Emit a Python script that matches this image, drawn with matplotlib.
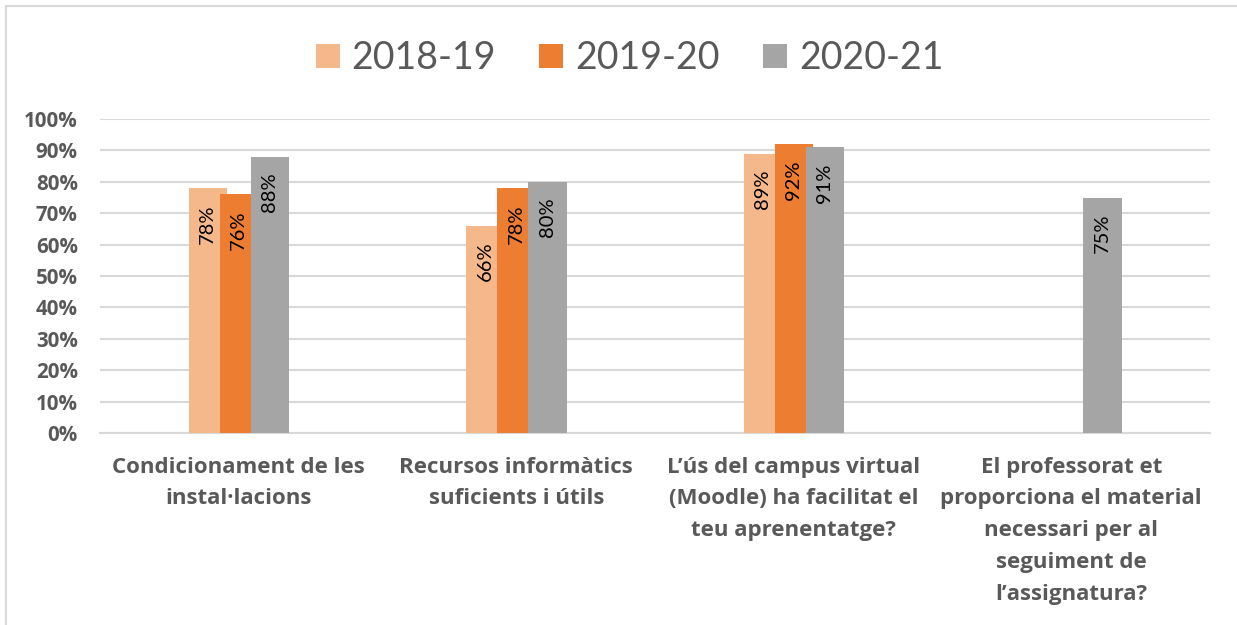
import matplotlib
matplotlib.use("Agg")
import matplotlib.pyplot as plt
import numpy as np
from matplotlib.lines import Line2D

plt.rcParams['font.family'] = ['Lato', 'DejaVu Sans']

categories = [
    "Condicionament de les\ninstal·lacions",
    "Recursos informàtics\nsuficients i útils",
    "L\u2019ús del campus virtual\n(Moodle) ha facilitat el\nteu aprenentatge?",
    "El professorat et\nproporciona el material\nnecessari per al\nseguiment de\nl\u2019assignatura?",
]
series_names = ["2018-19", "2019-20", "2020-21"]
v2018 = [78, 66, 89, np.nan]
v2019 = [76, 78, 92, np.nan]
v2020 = [88, 80, 91, 75]
series_values = [v2018, v2019, v2020]
colors = ["#F5B88B", "#ED7D31", "#A5A5A5"]
yticks = [0, 10, 20, 30, 40, 50, 60, 70, 80, 90, 100]
ytick_labels = [f"{t}%" for t in yticks]

W, H = 1237, 625
fig = plt.figure(figsize=(W / 100, H / 100), dpi=100)
ax = fig.add_axes([100 / W, (H - 433) / H, 1110 / W, 314 / H])

x = np.arange(len(categories))
bar_w = 38.5 / 277.5
step = 31 / 277.5
txt_col = "#595959"
bold_family = ['Open Sans', 'DejaVu Sans']

for i, (name, vals, c) in enumerate(zip(series_names, series_values, colors)):
    pos = x + (i - 1) * step
    ax.bar(pos, vals, width=bar_w, color=c, label=name, zorder=2 + i,
           edgecolor="none")
    for xp, v in zip(pos, vals):
        if np.isnan(v):
            continue
        ax.annotate(f"{int(v)}%", xy=(xp, v), xytext=(0, -11.5),
                    textcoords="offset points", rotation=90,
                    ha="center", va="top", fontsize=14.5, color="black",
                    zorder=10)

ax.set_xlim(-0.5, len(categories) - 0.5)
ax.set_ylim(0, 100)
ax.set_yticks(yticks)
ax.set_yticklabels(ytick_labels, fontsize=14.8, fontweight="bold", color=txt_col,
                   family=bold_family)
ax.set_xticks(x)
ax.set_xticklabels(categories, fontsize=16, fontweight="bold", color=txt_col,
                   linespacing=1.68, va="top", family=bold_family)
ax.tick_params(axis="y", length=0, pad=16)
ax.tick_params(axis="x", length=0, pad=17)
ax.grid(axis="y", color="#D9D9D9", linewidth=1.5, zorder=0)
ax.set_axisbelow(True)
for s in ["top", "right", "left"]:
    ax.spines[s].set_visible(False)
ax.spines["bottom"].set_color("#D9D9D9")
ax.spines["bottom"].set_linewidth(1.5)
ax.spines["bottom"].set_zorder(1)

leg = fig.legend(loc="center", bbox_to_anchor=(629.5 / W, 1 - 58 / H),
                 ncol=3, frameon=False, fontsize=27, handlelength=0.64,
                 handleheight=0.6, handletextpad=0.32, columnspacing=1.15,
                 labelcolor=txt_col, borderpad=0)

fig.add_artist(Line2D([6 / W, 1], [1 - 6 / H, 1 - 6 / H], transform=fig.transFigure,
                      color="#D9D9D9", linewidth=1.5))
fig.add_artist(Line2D([6 / W, 6 / W], [0, 1 - 6 / H], transform=fig.transFigure,
                      color="#D9D9D9", linewidth=1.5))

fig.savefig("out.png", dpi=100, facecolor="white")
